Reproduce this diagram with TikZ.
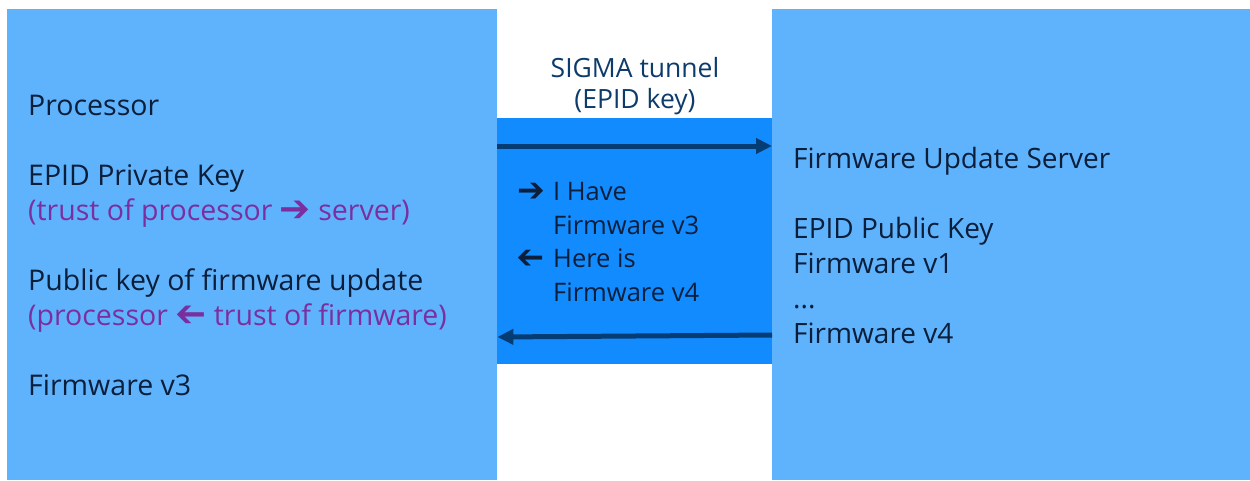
\documentclass[tikz,border=0pt]{standalone}
\usepackage{fontspec}
\setmainfont{Open Sans}
\newfontfamily\symfont{DejaVu Sans Bold}
\usetikzlibrary{arrows.meta,positioning}

\definecolor{sideblue}{HTML}{5FB3FD}
\definecolor{tunnelblue}{HTML}{128BFE}
\definecolor{inkdark}{HTML}{0B1E3A}
\definecolor{titleblue}{HTML}{0C3B6C}
\definecolor{arrowblue}{HTML}{063C74}
\definecolor{trustpurple}{HTML}{7B2F9E}

\newcommand{\rarr}{\raisebox{-0.04em}{\scalebox{1.3}{\symfont\char"2794}}}
\newcommand{\larr}{\raisebox{-0.04em}{\scalebox{-1.3}[1.3]{\symfont\char"2794}}}

\tikzset{
  panel/.style={fill=#1, draw=none, inner sep=0pt, anchor=north west},
  sidetext/.style={anchor=base west, inner sep=0pt, text=inkdark,
    font=\fontsize{28.5}{34}\selectfont},
  trusttext/.style={sidetext, text=trustpurple},
  servertext/.style={sidetext, font=\fontsize{28}{34}\selectfont},
  msgtext/.style={anchor=base west, inner sep=0pt, text=inkdark,
    font=\fontsize{25.5}{30}\selectfont},
  titletext/.style={anchor=base, inner sep=0pt, text=titleblue,
    font=\fontsize{26.5}{30}\selectfont},
  flow/.style={draw=arrowblue, line width=5pt,
    -{Triangle[length=16pt,width=15pt]}},
}

\begin{document}
\begin{tikzpicture}[x=1pt, y=-1pt]
  \useasboundingbox (0,0) rectangle (1250,480);

  % the three panels
  \node[panel=sideblue, minimum width=490pt, minimum height=471pt] (proc) at (7,9) {};
  \node[panel=sideblue, minimum width=478pt, minimum height=471pt] (srv) at (772,9) {};
  \node[panel=tunnelblue, minimum width=275pt, minimum height=246pt] (tun) at (497,118) {};

  % tunnel caption
  \node[titletext] (cap1) at (635,77) {SIGMA tunnel};
  \node[titletext] (cap2) at (635,108) {(EPID key)};

  % processor side
  \node[sidetext] (p1) at (28,115) {Processor};
  \node[sidetext] (p2) at (28,185) {EPID Private Key};
  \node[trusttext] (p3) at (28,220) {(trust of processor \rarr\ server)};
  \node[sidetext] (p4) at (28,290) {Public key of firmware update};
  \node[trusttext] (p5) at (28,325) {(processor \larr\ trust of firmware)};
  \node[sidetext] (p6) at (28,395) {Firmware v3};

  % server side
  \node[servertext] (s1) at (793,168) {Firmware Update Server};
  \node[servertext] (s2) at (793,238) {EPID Public Key};
  \node[servertext] (s3) at (793,273) {Firmware v1};
  \node[servertext] (s4) at (793,308) {...};
  \node[servertext] (s5) at (793,343) {Firmware v4};

  % messages inside the tunnel
  \node[msgtext] (m1a) at (517,200) {\rarr};
  \node[msgtext] (m1) at (553,200) {I Have};
  \node[msgtext] (m2) at (553,234) {Firmware v3};
  \node[msgtext] (m3a) at (517,267) {\larr};
  \node[msgtext] (m3) at (553,267) {Here is};
  \node[msgtext] (m4) at (553,301) {Firmware v4};

  % request and reply arrows across the tunnel
  \coordinate (reqA) at ([yshift=-137pt]proc.north east);
  \coordinate (reqB) at ([yshift=-137pt]srv.north west);
  \coordinate (repA) at ([yshift=-326pt]srv.north west);
  \coordinate (repB) at ([yshift=-328pt]proc.north east);
  \draw[flow] (reqA) -- (reqB);
  \draw[flow] (repA) -- (repB);
\end{tikzpicture}
\end{document}
